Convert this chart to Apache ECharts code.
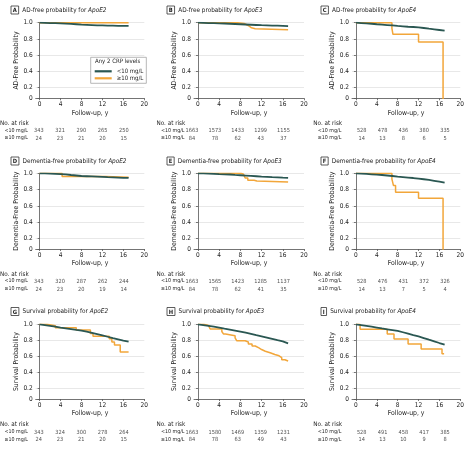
<!DOCTYPE html>
<html><head><meta charset="utf-8">
<script src="https://cdn.jsdelivr.net/npm/echarts@6/dist/echarts.min.js"></script>
<style>html,body{margin:0;padding:0;background:#fff}#c{width:467px;height:450px}</style>
</head><body><div id="c"></div>
<script>
// ---------- DATA ----------
const years = [0,1,2,3,4,5,6,7,8,9,10,11,12,13,14,15,16,17];
const xTicks = [0,4,8,12,16,20];
const yTicks = [0.07,0.2,0.4,0.6,0.8,1.0];
const riskYears = [0,4,8,12,16];
const groupNames = ['<10 mg/L','\u226510 mg/L'];

// <10 mg/L curves (read at each year)
const adE2_lt  = [1,0.998,0.996,0.994,0.991,0.988,0.985,0.981,0.977,0.974,0.971,0.968,0.966,0.964,0.963,0.962,0.961,0.96];
const adE3_lt  = [1,0.998,0.996,0.994,0.992,0.99,0.987,0.984,0.981,0.978,0.975,0.972,0.969,0.967,0.965,0.963,0.961,0.959];
const adE4_lt  = [1,0.996,0.992,0.987,0.981,0.976,0.971,0.966,0.96,0.955,0.95,0.947,0.943,0.935,0.926,0.918,0.91,0.902];
const demE2_lt = [1,0.998,0.996,0.994,0.991,0.986,0.979,0.973,0.967,0.964,0.961,0.958,0.955,0.952,0.95,0.948,0.945,0.943];
const demE3_lt = [1,0.998,0.996,0.993,0.99,0.988,0.985,0.98,0.976,0.972,0.968,0.964,0.96,0.957,0.953,0.95,0.946,0.943];
const demE4_lt = [1,0.996,0.992,0.988,0.984,0.979,0.973,0.967,0.96,0.954,0.948,0.942,0.935,0.927,0.918,0.908,0.898,0.886];
const survE2_lt= [1,0.99,0.98,0.97,0.959,0.95,0.941,0.931,0.922,0.908,0.893,0.877,0.861,0.845,0.828,0.812,0.796,0.784];
const survE3_lt= [1,0.99,0.98,0.97,0.959,0.946,0.934,0.922,0.91,0.895,0.88,0.864,0.849,0.834,0.819,0.803,0.788,0.763];
const survE4_lt= [1,0.99,0.98,0.97,0.959,0.948,0.938,0.928,0.918,0.901,0.884,0.866,0.849,0.829,0.808,0.788,0.767,0.747];

// >=10 mg/L step curves [time, probability]
const adE2_ge  = [[0,1],[17,1]];
const adE3_ge  = [[0,1],[7.4,0.99],[8.7,0.975],[9.2,0.96],[9.6,0.937],[10.1,0.926],[10.8,0.914],[17,0.914]];
const adE4_ge  = [[0,1],[6.9,0.929],[7.1,0.857],[12,0.763],[16.7,0]];
const demE2_ge = [[0,1],[4.3,0.96],[12.5,0.95],[17,0.95]];
const demE3_ge = [[0,1],[8.1,0.988],[8.6,0.971],[8.9,0.943],[9.4,0.914],[10.6,0.905],[11.1,0.894],[17,0.894]];
const demE4_ge = [[0,1],[6.9,0.929],[7.2,0.849],[7.6,0.767],[12,0.694],[16.7,0]];
const survE2_ge= [[0,1],[1.4,0.983],[3.0,0.958],[7.0,0.928],[9.7,0.887],[10.2,0.85],[13.3,0.82],[13.8,0.78],[14.3,0.742],[15.4,0.655],[17,0.655]];
const survE3_ge= [[0,1],[1.1,0.984],[2.0,0.967],[2.3,0.943],[4.5,0.91],[4.8,0.88],[5.2,0.857],[7.0,0.83],[7.3,0.796],[8.9,0.78],[9.5,0.755],[10.2,0.73],[10.8,0.706],[11.5,0.686],[12.0,0.665],[12.7,0.645],[13.6,0.624],[14.5,0.608],[15.3,0.584],[15.8,0.559],[16.4,0.543],[17,0.535]];
const survE4_ge= [[0,1],[0.8,0.939],[6.0,0.878],[7.3,0.816],[10.0,0.755],[12.5,0.694],[16.5,0.633],[16.9,0.633]];

// numbers at risk
const riskAdE2_lt=[343,321,290,265,250],   riskAdE2_ge=[24,23,21,20,15];
const riskAdE3_lt=[1663,1573,1433,1299,1155], riskAdE3_ge=[84,78,62,43,37];
const riskAdE4_lt=[528,478,436,380,335],   riskAdE4_ge=[14,13,8,6,5];
const riskDemE2_lt=[343,320,287,262,244],  riskDemE2_ge=[24,23,20,19,14];
const riskDemE3_lt=[1663,1565,1423,1285,1137], riskDemE3_ge=[84,78,62,41,35];
const riskDemE4_lt=[528,476,431,372,326],  riskDemE4_ge=[14,13,7,5,4];
const riskSurvE2_lt=[343,324,300,278,264], riskSurvE2_ge=[24,23,21,20,15];
const riskSurvE3_lt=[1663,1580,1469,1359,1231], riskSurvE3_ge=[84,78,63,49,43];
const riskSurvE4_lt=[528,491,458,417,385], riskSurvE4_ge=[14,13,10,9,8];

const panelLetters = ['A','B','C','D','E','F','G','H','I'];
const panelTitles = ['AD-free probability for ','AD-free probability for ','AD-free probability for ',
  'Dementia-free probability for ','Dementia-free probability for ','Dementia-free probability for ',
  'Survival probability for ','Survival probability for ','Survival probability for '];
const genes = ['ApoE2','ApoE3','ApoE4','ApoE2','ApoE3','ApoE4','ApoE2','ApoE3','ApoE4'];
const yNames = ['AD-Free Probability','Dementia-Free Probability','Survival Probability'];
const xName = 'Follow-up, y';
const legendTitle = 'Any 2 CRP levels';
const riskTitle = 'No. at risk';

// ---------- BUILD ----------
const ltCurves = [adE2_lt,adE3_lt,adE4_lt,demE2_lt,demE3_lt,demE4_lt,survE2_lt,survE3_lt,survE4_lt];
const geCurves = [adE2_ge,adE3_ge,adE4_ge,demE2_ge,demE3_ge,demE4_ge,survE2_ge,survE3_ge,survE4_ge];
const riskLt = [riskAdE2_lt,riskAdE3_lt,riskAdE4_lt,riskDemE2_lt,riskDemE3_lt,riskDemE4_lt,riskSurvE2_lt,riskSurvE3_lt,riskSurvE4_lt];
const riskGe = [riskAdE2_ge,riskAdE3_ge,riskAdE4_ge,riskDemE2_ge,riskDemE3_ge,riskDemE4_ge,riskSurvE2_ge,riskSurvE3_ge,riskSurvE4_ge];

const FONT = "'Liberation Sans Narrow','DejaVu Sans Condensed','Liberation Sans',sans-serif";
const TXT = '#222';
const GREEN = '#2a5752';
const ORANGE = '#f2a63a';
const AXIS = '#555';

const colLeft = [35.7, 194, 352];
const colWidth = [108.6, 110, 109];
const rowTop = [22.7, 173.3, 324.3];
const plotH = [75.6, 75.7, 74.7];
const blockX = [0, 156.5, 313.3];
const titleX = [11, 167, 321];
const titleTop = [6, 157, 307.5];
const tabLeft = [38.8, 192, 361.7];
const tabW = [85, 91.5, 83.3];
const tabTop = [131, 281.8, 432.3];
const tabH = 7.7;

const grid=[], xAxis=[], yAxis=[], series=[], title=[], graphic=[];

for (let p=0; p<9; p++){
  const r = Math.floor(p/3), c = p%3;
  const gi = grid.length;
  grid.push({left:colLeft[c], top:rowTop[r], width:colWidth[c], height:plotH[r]});
  xAxis.push({gridIndex:gi, type:'value', min:-0.75, max:20,
    axisLine:{show:true, lineStyle:{color:AXIS, width:0.8}},
    axisTick:{show:true, customValues:xTicks, length:2, lineStyle:{color:AXIS, width:0.8}},
    axisLabel:{customValues:xTicks, fontSize:6.5, margin:3, color:TXT, fontFamily:FONT},
    splitLine:{show:false},
    name:xName, nameLocation:'middle', nameGap:11,
    nameTextStyle:{fontSize:6.8, color:TXT, fontFamily:FONT}});
  yAxis.push({gridIndex:gi, type:'value', min:0.07, max:1,
    axisLine:{show:true, lineStyle:{color:AXIS, width:0.8}},
    axisTick:{show:true, customValues:yTicks, length:2, lineStyle:{color:AXIS, width:0.8}},
    axisLabel:{customValues:yTicks, fontSize:6.5, margin:3, color:TXT, fontFamily:FONT,
      formatter:v=> v<0.1 ? '0' : v.toFixed(1)},
    splitLine:{show:true, lineStyle:{color:'#d9d9d9', width:0.6}},
    name:yNames[r], nameLocation:'middle', nameGap:12,
    nameTextStyle:{fontSize:6.8, color:TXT, fontFamily:FONT}});
  series.push({type:'line', name:groupNames[1], xAxisIndex:gi, yAxisIndex:gi, step:'end',
    data:geCurves[p], symbol:'none', showSymbol:false, color:ORANGE,
    lineStyle:{color:ORANGE, width:1.5}, z:3, animation:false, silent:true});
  series.push({type:'line', name:groupNames[0], xAxisIndex:gi, yAxisIndex:gi,
    data:years.map((t,i)=>[t, ltCurves[p][i]]), symbol:'none', showSymbol:false, color:GREEN,
    lineStyle:{color:GREEN, width:1.8}, z:4, animation:false, silent:true});

  // at-risk table grid
  const ti = grid.length;
  grid.push({left:tabLeft[c], top:tabTop[r], width:tabW[c], height:tabH});
  xAxis.push({gridIndex:ti, type:'value', min:0, max:16, show:false});
  yAxis.push({gridIndex:ti, type:'value', min:0, max:1, show:false});
  const lab = {show:true, position:'inside', formatter:q=>String(q.value[2]), fontSize:5.6, color:TXT, fontFamily:FONT};
  series.push({type:'scatter', xAxisIndex:ti, yAxisIndex:ti, symbolSize:2, silent:true, animation:false,
    data:riskYears.map((t,i)=>[t,1,riskLt[p][i]]), label:lab, itemStyle:{color:'rgba(0,0,0,0)'},
    labelLayout:{hideOverlap:false}});
  series.push({type:'scatter', xAxisIndex:ti, yAxisIndex:ti, symbolSize:2, silent:true, animation:false,
    data:riskYears.map((t,i)=>[t,0,riskGe[p][i]]), label:lab, itemStyle:{color:'rgba(0,0,0,0)'},
    labelLayout:{hideOverlap:false}});

  title.push({left:titleX[c], top:titleTop[r], padding:0,
    text:'{box|'+panelLetters[p]+'}  '+panelTitles[p]+'{i|'+genes[p]+'}',
    textStyle:{fontSize:6.4, fontWeight:'normal', color:TXT, fontFamily:FONT,
      rich:{box:{fontSize:5.8, fontWeight:'bold', color:TXT, fontFamily:FONT, borderColor:'#333', borderWidth:0.8, padding:[1.5,1.8,0.5,1.8]},
            i:{fontSize:6.4, fontStyle:'italic', color:TXT, fontFamily:FONT}}}});

  graphic.push({type:'text', left:blockX[c], top:tabTop[r]-10.5, silent:true,
    style:{text:riskTitle, fontSize:6.3, fill:TXT, fontFamily:FONT}});
  graphic.push({type:'text', left:blockX[c]+4.5, top:tabTop[r]-3.2, silent:true,
    style:{text:groupNames[0], fontSize:5.3, fill:TXT, fontFamily:FONT}});
  graphic.push({type:'text', left:blockX[c]+4.5, top:tabTop[r]+tabH-3.2, silent:true,
    style:{text:groupNames[1], fontSize:5.3, fill:TXT, fontFamily:FONT}});
}

graphic.push({type:'text', left:95, top:58.8, silent:true, z:100,
  style:{text:legendTitle, fontSize:6, fill:TXT, fontFamily:FONT}});

const option = {
  backgroundColor:'#fff',
  animation:false,
  title, grid, xAxis, yAxis, series, graphic,
  legend:{data:groupNames, orient:'vertical', left:90.7, top:57.3,
    padding:[11,3,2,4], itemGap:1, itemWidth:17, itemHeight:2.2, icon:'rect',
    borderColor:'#9a9a9a', borderWidth:0.7, backgroundColor:'#fff',
    textStyle:{fontSize:6, color:TXT, fontFamily:FONT}, selectedMode:false}
};
const chart = echarts.init(document.getElementById('c'));
chart.setOption(option);
</script></body></html>
